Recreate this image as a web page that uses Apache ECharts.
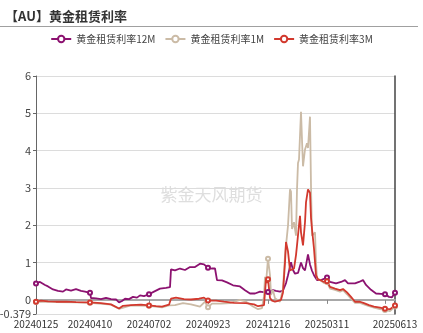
<!DOCTYPE html>
<html>
<head>
<meta charset="utf-8">
<script src="https://cdn.jsdelivr.net/npm/echarts@6/dist/echarts.min.js"></script>
<style>
  html, body { margin: 0; padding: 0; background: #fff; }
  #chart { width: 423px; height: 333px; }
</style>
</head>
<body>
<div id="chart"></div>
<script>
// Trading calendar: weekdays from 2024-01-25 to 2025-06-13, minus market holidays
const startDate = '2024-01-25';
const endDate = '2025-06-13';
const holidays = ['20241225', '20250101'];

// Dates that get an axis label, and dates that get a tick + marker
const tickLabels = ['20240125', '20240410', '20240702', '20240923', '20241216', '20250311', '20250613'];
const markDates = ['20240125', '20240410', '20240702', '20240923', '20241216', '20250311', '20250530', '20250613'];

const seriesNames = ['黄金租赁利率12M', '黄金租赁利率1M', '黄金租赁利率3M'];

// 黄金租赁利率12M
const lease12M = [
  ['20240125', 0.44], ['20240131', 0.48], ['20240202', 0.51], ['20240207', 0.40], ['20240212', 0.36],
  ['20240219', 0.28], ['20240226', 0.24], ['20240304', 0.22], ['20240307', 0.28], ['20240311', 0.31],
  ['20240314', 0.25], ['20240318', 0.23], ['20240321', 0.29], ['20240325', 0.30], ['20240328', 0.24],
  ['20240403', 0.22], ['20240410', 0.19], ['20240411', 0.05], ['20240418', 0.04], ['20240425', 0.02],
  ['20240502', 0.05], ['20240509', 0.02], ['20240516', 0.01], ['20240521', -0.07], ['20240524', -0.03],
  ['20240529', 0.03], ['20240604', 0.02], ['20240610', 0.08], ['20240614', 0.06], ['20240619', 0.12],
  ['20240625', 0.10], ['20240702', 0.15], ['20240709', 0.22], ['20240712', 0.26], ['20240717', 0.30],
  ['20240725', 0.32], ['20240731', 0.34], ['20240801', 0.82], ['20240807', 0.79], ['20240814', 0.84],
  ['20240821', 0.80], ['20240828', 0.88], ['20240904', 0.88], ['20240911', 0.97], ['20240917', 0.95],
  ['20240923', 0.86], ['20240927', 0.84], ['20241002', 0.84], ['20241004', 0.53], ['20241011', 0.52],
  ['20241018', 0.47], ['20241028', 0.39], ['20241106', 0.36], ['20241113', 0.26], ['20241120', 0.17],
  ['20241127', 0.17], ['20241204', 0.22], ['20241211', 0.20], ['20241216', 0.21], ['20241218', 0.22],
  ['20241223', 0.26], ['20241227', 0.24], ['20250103', 0.22], ['20250108', 0.25], ['20250113', 0.45],
  ['20250115', 0.66], ['20250120', 1.01], ['20250122', 0.80], ['20250124', 0.70], ['20250129', 0.72],
  ['20250203', 1.00], ['20250205', 0.85], ['20250207', 0.79], ['20250212', 1.22], ['20250214', 0.95],
  ['20250218', 0.78], ['20250220', 0.66], ['20250225', 0.53], ['20250303', 0.53], ['20250311', 0.60],
  ['20250314', 0.48], ['20250324', 0.44], ['20250331', 0.48], ['20250404', 0.53], ['20250409', 0.44],
  ['20250418', 0.44], ['20250424', 0.48], ['20250430', 0.53], ['20250505', 0.40], ['20250512', 0.27],
  ['20250519', 0.17], ['20250526', 0.16], ['20250530', 0.15], ['20250605', 0.08], ['20250610', 0.07],
  ['20250613', 0.19]
];

// 黄金租赁利率1M
const lease1M = [
  ['20240125', -0.06], ['20240212', -0.05], ['20240222', -0.06], ['20240321', -0.07], ['20240410', -0.08],
  ['20240509', -0.13], ['20240521', -0.24], ['20240606', -0.15], ['20240702', -0.16], ['20240719', -0.20],
  ['20240730', -0.15], ['20240801', -0.10], ['20240807', -0.14], ['20240819', -0.09], ['20240829', -0.12],
  ['20240911', -0.18], ['20240918', -0.05], ['20240923', -0.20], ['20240927', -0.10], ['20241010', -0.10],
  ['20241023', -0.09], ['20241106', 0.00], ['20241114', -0.05], ['20241125', -0.18], ['20241202', -0.25],
  ['20241206', -0.22], ['20241210', 0.10], ['20241211', 0.62], ['20241212', 0.45], ['20241216', 1.10],
  ['20241218', 0.66], ['20241219', 0.13], ['20241223', 0.26], ['20241226', 0.04], ['20250103', -0.05],
  ['20250108', 0.30], ['20250110', 1.19], ['20250114', 1.19], ['20250115', 1.99], ['20250117', 2.96],
  ['20250120', 2.90], ['20250121', 1.90], ['20250123', 2.08], ['20250127', 1.72], ['20250128', 2.96],
  ['20250129', 3.67], ['20250130', 3.76], ['20250203', 5.04], ['20250204', 4.29], ['20250205', 3.58],
  ['20250207', 4.03], ['20250211', 4.20], ['20250212', 4.07], ['20250214', 4.91], ['20250217', 3.05],
  ['20250218', 1.72], ['20250220', 1.72], ['20250221', 1.81], ['20250224', 1.01], ['20250225', 0.57],
  ['20250228', 0.53], ['20250306', 0.45], ['20250311', 0.48], ['20250314', 0.30], ['20250321', 0.27],
  ['20250328', 0.22], ['20250402', 0.26], ['20250408', 0.15], ['20250414', 0.03], ['20250418', -0.08],
  ['20250425', -0.08], ['20250501', -0.12], ['20250508', -0.17], ['20250515', -0.21], ['20250523', -0.25],
  ['20250530', -0.27], ['20250606', -0.30], ['20250613', -0.18]
];

// 黄金租赁利率3M
const lease3M = [
  ['20240125', -0.05], ['20240201', -0.02], ['20240212', -0.04], ['20240222', -0.05], ['20240307', -0.05],
  ['20240321', -0.06], ['20240410', -0.07], ['20240425', -0.09], ['20240509', -0.12], ['20240521', -0.23],
  ['20240527', -0.16], ['20240606', -0.14], ['20240620', -0.13], ['20240702', -0.15], ['20240711', -0.17],
  ['20240719', -0.18], ['20240730', -0.13], ['20240801', 0.03], ['20240808', 0.06], ['20240820', 0.02],
  ['20240829', 0.01], ['20240910', 0.03], ['20240917', 0.06], ['20240923', -0.02], ['20241003', -0.02],
  ['20241015', -0.05], ['20241029', -0.08], ['20241114', -0.09], ['20241126', -0.12], ['20241202', -0.17],
  ['20241204', -0.22], ['20241210', -0.14], ['20241211', 0.20], ['20241212', 0.55], ['20241213', 0.45],
  ['20241216', 0.55], ['20241217', 0.30], ['20241218', 0.05], ['20241220', -0.02], ['20241226', -0.05],
  ['20241231', -0.03], ['20250106', 0.00], ['20250108', 0.20], ['20250110', 1.00], ['20250113', 1.55],
  ['20250115', 1.30], ['20250117', 0.79], ['20250121', 0.80], ['20250123', 0.84], ['20250127', 1.20],
  ['20250128', 1.46], ['20250130', 2.00], ['20250131', 2.25], ['20250203', 1.81], ['20250205', 1.46],
  ['20250207', 2.08], ['20250210', 2.61], ['20250212', 2.96], ['20250214', 2.87], ['20250217', 2.20],
  ['20250218', 1.90], ['20250220', 1.37], ['20250224', 0.66], ['20250226', 0.55], ['20250303', 0.52],
  ['20250306', 0.48], ['20250311', 0.50], ['20250314', 0.35], ['20250321', 0.30], ['20250328', 0.26],
  ['20250402', 0.29], ['20250408', 0.20], ['20250414', 0.08], ['20250418', -0.05], ['20250425', -0.05],
  ['20250501', -0.09], ['20250508', -0.14], ['20250515', -0.18], ['20250523', -0.21], ['20250530', -0.24],
  ['20250606', -0.25], ['20250613', -0.15]
];

const colors = ['#8c1270', '#cbbba6', '#d2392e'];

function buildCalendar(from, to, skip) {
  const out = [];
  const d = new Date(from + 'T00:00:00Z');
  const end = new Date(to + 'T00:00:00Z');
  while (d <= end) {
    const wd = d.getUTCDay();
    const s = d.getUTCFullYear() + String(d.getUTCMonth() + 1).padStart(2, '0') + String(d.getUTCDate()).padStart(2, '0');
    if (wd !== 0 && wd !== 6 && skip.indexOf(s) < 0) out.push(s);
    d.setUTCDate(d.getUTCDate() + 1);
  }
  return out;
}
const categories = buildCalendar(startDate, endDate, holidays);

const chart = echarts.init(document.getElementById('chart'), null, { renderer: 'canvas' });
const fontFamily = '"Noto Sans CJK SC", "Noto Sans", sans-serif';

function lineSeries(name, data, color) {
  return {
    name: name,
    type: 'line',
    data: data,
    symbol: 'emptyCircle',
    showSymbol: true,
    showAllSymbol: true,
    symbolSize: v => (markDates.indexOf(v[0]) >= 0 ? 4 : 0),
    itemStyle: { color: color, borderWidth: 1 },
    lineStyle: { color: color, width: 1.8 },
    emphasis: { disabled: true },
    animation: false
  };
}

chart.setOption({
  backgroundColor: '#fff',
  textStyle: { fontFamily: fontFamily },
  title: {
    text: '【AU】黄金租赁利率',
    left: 0,
    top: 5,
    textStyle: { fontSize: 13, fontWeight: 'bold', color: '#333', fontFamily: fontFamily }
  },
  graphic: [
    { type: 'line', shape: { x1: 0, y1: 26.5, x2: 418, y2: 26.5 }, style: { stroke: '#a0a0a0', lineWidth: 1 }, silent: true },
    {
      type: 'text', left: 'center', top: 186, z: -1, silent: true,
      style: { text: '紫金天风期货', fontSize: 17, fill: '#dedede', fontFamily: fontFamily }
    }
  ],
  legend: {
    top: 29,
    left: 'center',
    itemWidth: 20,
    itemHeight: 8,
    itemGap: 9,
    textStyle: { fontSize: 10, color: '#444', fontFamily: fontFamily },
    data: seriesNames
  },
  grid: { left: 36, right: 28, top: 76, bottom: 19, containLabel: false, outerBoundsMode: 'none' },
  xAxis: {
    type: 'category',
    data: categories,
    boundaryGap: false,
    axisLine: { onZero: true, lineStyle: { color: '#a8a8a8', width: 2 } },
    axisTick: {
      interval: (i, v) => markDates.indexOf(v) >= 0,
      length: 4,
      lineStyle: { color: '#888' }
    },
    axisLabel: {
      interval: (i, v) => tickLabels.indexOf(v) >= 0,
      margin: 5,
      fontSize: 10,
      color: '#333',
      fontFamily: fontFamily
    },
    splitLine: { show: false }
  },
  yAxis: [
    {
      type: 'value',
      min: -0.379,
      max: 6,
      axisLine: { show: true, lineStyle: { color: '#666' } },
      axisTick: { show: true, length: 3, lineStyle: { color: '#666' } },
      axisLabel: { fontSize: 11, color: '#444', margin: 5, fontFamily: fontFamily },
      splitLine: { lineStyle: { color: '#dcdcdc' } }
    },
    {
      type: 'value',
      position: 'right',
      min: -0.379,
      max: 6,
      axisLine: { show: true, lineStyle: { color: '#444', width: 1.5 } },
      axisTick: { show: false },
      axisLabel: { show: false },
      splitLine: { show: false }
    }
  ],
  series: [
    lineSeries(seriesNames[0], lease12M, colors[0]),
    lineSeries(seriesNames[1], lease1M, colors[1]),
    lineSeries(seriesNames[2], lease3M, colors[2])
  ]
});
</script>
</body>
</html>
